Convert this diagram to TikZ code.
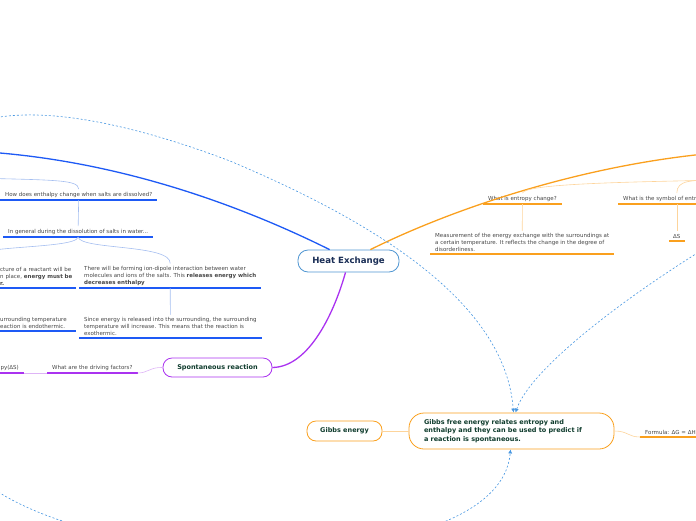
\documentclass[tikz,border=0pt]{standalone}
\usepackage{fontspec}
\setmainfont{DejaVu Sans}
\definecolor{hxblue}{RGB}{30, 90, 245}
\definecolor{hxblueL}{RGB}{165, 190, 240}
\definecolor{hxorange}{RGB}{250, 160, 30}
\definecolor{hxorangeL}{RGB}{253, 212, 155}
\definecolor{hxpurple}{RGB}{170, 50, 240}
\definecolor{hxpurpleL}{RGB}{222, 180, 246}
\definecolor{hxdash}{RGB}{70, 150, 225}
\definecolor{hxframe}{RGB}{80, 150, 210}
\definecolor{hxnavy}{RGB}{25, 45, 85}
\definecolor{hxgreen}{RGB}{15, 60, 45}
\definecolor{hxtext}{RGB}{70, 70, 70}
\usetikzlibrary{arrows.meta, positioning, calc}
\tikzset{
	central/.style={rectangle, rounded corners=10pt, draw=hxframe, fill=white, line width=0.8pt, minimum width=101pt, minimum height=22pt, font=\fontsize{8.6}{10}\selectfont\bfseries, text=hxnavy},
	mainbox/.style={rectangle, rounded corners=9pt, fill=white, line width=0.8pt, font=\fontsize{6.5}{8.6}\selectfont\bfseries, text=hxgreen, inner sep=0pt},
	leaf/.style={anchor=south west, inner xsep=5pt, inner ysep=2.6pt, align=left, font=\fontsize{5.5}{6.7}\selectfont, text=hxtext},
	uline/.style={line width=1.3pt},
	twig/.style={line width=0.6pt},
	branch/.style={line width=1.3pt},
	link/.style={-{Latex[length=4pt,width=4pt]}, dash pattern=on 2pt off 2pt, draw=hxdash, line width=0.6pt},
}
\begin{document}
\begin{tikzpicture}[x=1pt, y=-1pt]
		\useasboundingbox (0,0) rectangle (696,520);
		\clip (0,0) rectangle (696,520);
		% main nodes
		\node[central] (heat) at (348.5,261) {Heat Exchange};
		\node[mainbox, draw=hxpurple, minimum width=109pt, minimum height=19pt] (spont) at (217.5,367.5) {Spontaneous reaction};
		\node[mainbox, draw=hxorange, minimum width=75pt, minimum height=20pt] (gibbsE) at (344.5,431) {Gibbs energy};
		\node[mainbox, draw=hxorange, rounded corners=15pt, minimum width=205pt, minimum height=36pt, text width=175pt, align=left] (gibbsF) at (511.5,431) {Gibbs free energy relates entropy and\\enthalpy and they can be used to predict if\\a reaction is spontaneous.};
		% topics outside the view
		\coordinate (enthalpy) at (-30,151);
		\coordinate (entropy) at (715,153);
		\coordinate (entropyhub) at (725,180);
		\coordinate (farleft) at (-30,125);
		\coordinate (farright) at (715,242);
		\coordinate (farbottom) at (-30,470);
		% blue side
		\node[leaf] (howq) at (0,200) {How does enthalpy change when salts are dissolved?};
		\node[leaf] (general) at (3,237) {In general during the dissolution of salts in water...};
		\node[leaf, text width=71pt] (absorb) at (-5,288) {\mbox{cture of a reactant will be}\\\mbox{n place, \textbf{energy must be}}\\\textbf{r.}};
		\node[leaf] (release) at (79,288) {There will be forming ion-dipole interaction between water\\molecules and ions of the salts. This \textbf{releases energy which}\\\textbf{decreases enthalpy}};
		\node[leaf, text width=71pt] (endo) at (-5,331) {urrounding temperature\\eaction is endothermic.};
		\node[leaf] (exo) at (79,338) {Since energy is released into the surrounding, the surrounding\\temperature will increase. This means that the reaction is\\exothermic.};
		\coordinate (absorbtop) at (-40,262);
		% purple side
		\node[leaf] (driving) at (47,373) {What are the driving factors?};
		\node[leaf, anchor=south east] (entropyS) at (24,373) {py(ΔS)};
		% orange side
		\node[leaf] (entq) at (483,204) {What is entropy change?};
		\node[leaf] (measure) at (430,254) {Measurement of the energy exchange with the surroundings at\\a certain temperature. It reflects the change in the degree of\\disorderliness.};
		\node[leaf] (symq) at (618,204) {What is the symbol of entr};
		\node[leaf, inner xsep=4pt] (deltaS) at (669,241) {ΔS};
		\node[leaf] (formula) at (640,437) {Formula: ΔG = ΔH};
		% underlines
		\foreach \n in {howq, general, absorb, release, endo, exo}
			\draw[uline, hxblue] (\n.south west) -- (\n.south east);
		\foreach \n in {driving, entropyS}
			\draw[uline, hxpurple] (\n.south west) -- (\n.south east);
		\foreach \n in {entq, measure, symq, deltaS, formula}
			\draw[uline, hxorange] (\n.south west) -- (\n.south east);
		% branches
		\draw[branch, hxblue] (heat.north west) ++(32,0) .. controls (250,210) and (120,158) .. (enthalpy);
		\draw[branch, hxorange] (heat.north east) ++(-29,0) .. controls (450,210) and (580,165) .. (entropy);
		\draw[branch, hxpurple] (heat.south) ++(-3,0) .. controls (335,310) and (310,367) .. (spont.east);
		% twigs
		\draw[twig, hxblueL] (enthalpy) ++(0,27) .. controls (60,180) and (78,180) .. (howq.north);
		\draw[twig, hxblueL] (howq.south) -- (general.north);
		\draw[twig, hxblueL] (general.south) .. controls (80,250) and (172,244) .. (release.north);
		\draw[twig, hxblueL] (general.south) .. controls (76,250) and (-40,244) .. (absorbtop);
		\draw[twig, hxblueL] (release.south) -- (exo.north);
		\draw[twig, hxpurpleL] (spont.west) .. controls (150,367) and (148,373) .. (driving.south east);
		\draw[twig, hxpurpleL] (driving.south west) -- (entropyS.south east);
		\draw[twig, hxorangeL] (entropyhub) .. controls (620,182) and (525,184) .. (entq.north);
		\draw[twig, hxorangeL] (entropyhub) .. controls (690,180) and (677,180) .. (deltaS.north |- symq.north);
		\draw[twig, hxorangeL] (entq.south) -- (measure.north);
		\draw[twig, hxorangeL] (deltaS.north |- symq.south) -- (deltaS.north);
		\draw[twig, hxorangeL] (gibbsE.east) -- (gibbsF.west);
		\draw[twig, hxorangeL] (gibbsF.east) .. controls (628,431) and (628,437) .. (formula.south west);
		% dashed links
		\draw[link] (farleft) .. controls (10,108) and (90,108) .. (230,161) .. controls (370,220) and (505,300) .. ([xshift=2pt]gibbsF.north);
		\draw[link] (farright) .. controls (620,300) and (530,370) .. ([xshift=4pt]gibbsF.north);
		\draw[link] (farbottom) .. controls (80,580) and (500,580) .. ([xshift=-1pt]gibbsF.south);
	\end{tikzpicture}
\end{document}
